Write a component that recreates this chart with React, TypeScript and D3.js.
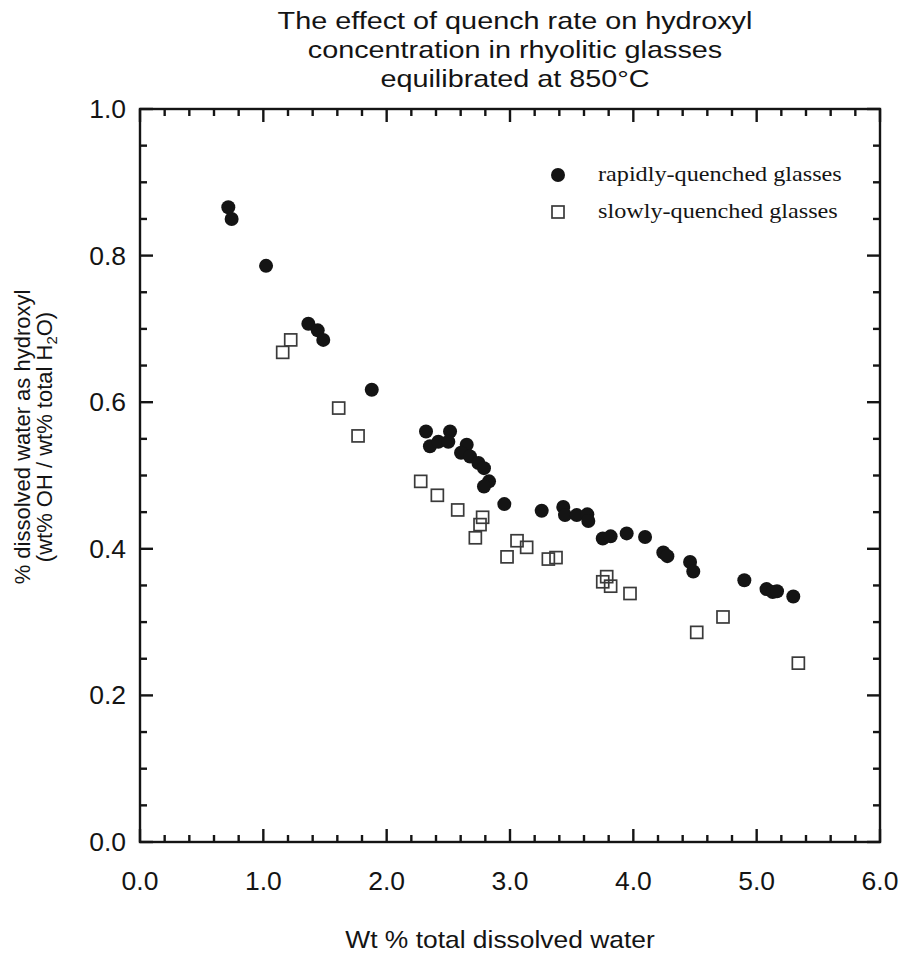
import React from "react";
import * as d3 from "d3";

// ---- data ----
const rapidX = [0.716, 0.743, 1.022, 1.365, 1.441, 1.486, 1.879, 2.319, 2.514, 2.351, 2.419, 2.5, 2.649, 2.603, 2.676, 2.744, 2.789, 2.83, 2.789, 2.954, 3.257, 3.432, 3.446, 3.541, 3.627, 3.635, 3.752, 3.816, 3.946, 4.095, 4.243, 4.276, 4.46, 4.486, 4.9, 5.08, 5.13, 5.165, 5.297];
const rapidY = [0.866, 0.85, 0.786, 0.707, 0.698, 0.685, 0.617, 0.56, 0.56, 0.54, 0.546, 0.546, 0.542, 0.531, 0.526, 0.517, 0.51, 0.492, 0.485, 0.461, 0.452, 0.457, 0.446, 0.446, 0.447, 0.438, 0.414, 0.417, 0.421, 0.416, 0.395, 0.39, 0.382, 0.369, 0.357, 0.345, 0.341, 0.342, 0.335];

const slowX = [1.157, 1.222, 1.611, 1.768, 2.276, 2.411, 2.576, 2.778, 2.757, 2.719, 2.976, 3.057, 3.135, 3.311, 3.373, 3.752, 3.784, 3.816, 3.973, 4.514, 4.727, 5.338];
const slowY = [0.668, 0.685, 0.592, 0.554, 0.492, 0.473, 0.453, 0.443, 0.433, 0.415, 0.389, 0.411, 0.402, 0.386, 0.388, 0.355, 0.362, 0.349, 0.339, 0.286, 0.307, 0.244];

const xMajorTicks = [0, 1, 2, 3, 4, 5, 6];
const xTickLabels = ["0.0", "1.0", "2.0", "3.0", "4.0", "5.0", "6.0"];
const yMajorTicks = [0, 0.2, 0.4, 0.6, 0.8, 1.0];
const yTickLabels = ["0.0", "0.2", "0.4", "0.6", "0.8", "1.0"];

const titleLines = [
  "The effect of quench rate on hydroxyl",
  "concentration in rhyolitic glasses",
  "equilibrated at 850°C",
];
const xTitle = "Wt % total dissolved water";
const yTitle1 = "% dissolved water as hydroxyl";
const legendLabels = ["rapidly-quenched glasses", "slowly-quenched glasses"];

// ---- layout ----
const W = 906;
const H = 960;
const L = 140, R = 880, T = 109, B = 842;
const SANS = "'Liberation Sans', Arial, Helvetica, sans-serif";
const SERIF = "'Liberation Serif', 'Times New Roman', serif";
const INK = "#141414";

function SText(props: any) {
  const { x, y, sx = 1, anchor = "start", size, family = SANS, children } = props;
  return (
    <text
      transform={`translate(${x},${y}) scale(${sx},1)`}
      textAnchor={anchor}
      fontSize={size}
      fontFamily={family}
      fill={INK}
    >
      {children}
    </text>
  );
}

export default function App() {
  const x = d3.scaleLinear().domain([0, 6]).range([L, R]);
  const y = d3.scaleLinear().domain([0, 1]).range([B, T]);

  const xMinor = d3.range(0, 6.0001, 0.2).filter((v) => Math.abs(v - Math.round(v)) > 1e-6);
  const yMinor = d3.range(0, 1.0001, 0.05).filter((v) => Math.abs(v * 5 - Math.round(v * 5)) > 1e-6);

  const MAJ = 13;
  const MIN = 7;
  const sw = 2.4;

  const rapid = rapidX.map((v, i) => [v, rapidY[i]]);
  const slow = slowX.map((v, i) => [v, slowY[i]]);
  const sq = 12;

  return (
    <svg
      width={W}
      height={H}
      viewBox={`0 0 ${W} ${H}`}
      style={{ position: "absolute", left: 0, top: 0, background: "#fff" }}
    >
      <rect x={0} y={0} width={W} height={H} fill="#fff" />
      {/* title */}
      {titleLines.map((t, i) => (
        <SText key={i} x={515} y={29 + i * 29} sx={1.2} anchor="middle" size={24}>
          {t}
        </SText>
      ))}

      {/* frame */}
      <rect x={L} y={T} width={R - L} height={B - T} fill="none" stroke={INK} strokeWidth={sw} />

      {/* x ticks bottom & top */}
      {xMajorTicks.map((v) => (
        <g key={"xM" + v}>
          <line x1={x(v)} x2={x(v)} y1={B} y2={B - MAJ} stroke={INK} strokeWidth={sw} />
          <line x1={x(v)} x2={x(v)} y1={T} y2={T + MAJ} stroke={INK} strokeWidth={sw} />
        </g>
      ))}
      {xMinor.map((v) => (
        <g key={"xm" + v}>
          <line x1={x(v)} x2={x(v)} y1={B} y2={B - MIN} stroke={INK} strokeWidth={sw} />
          <line x1={x(v)} x2={x(v)} y1={T} y2={T + MIN} stroke={INK} strokeWidth={sw} />
        </g>
      ))}
      {/* y ticks left & right */}
      {yMajorTicks.map((v) => (
        <g key={"yM" + v}>
          <line x1={L} x2={L + MAJ} y1={y(v)} y2={y(v)} stroke={INK} strokeWidth={sw} />
          <line x1={R} x2={R - MAJ} y1={y(v)} y2={y(v)} stroke={INK} strokeWidth={sw} />
        </g>
      ))}
      {yMinor.map((v) => (
        <g key={"ym" + v}>
          <line x1={L} x2={L + MIN} y1={y(v)} y2={y(v)} stroke={INK} strokeWidth={sw} />
          <line x1={R} x2={R - MIN} y1={y(v)} y2={y(v)} stroke={INK} strokeWidth={sw} />
        </g>
      ))}

      {/* tick labels */}
      {xMajorTicks.map((v, i) => (
        <SText key={"xl" + v} x={x(v)} y={890} sx={1.06} anchor="middle" size={25}>
          {xTickLabels[i]}
        </SText>
      ))}
      {yMajorTicks.map((v, i) => (
        <SText key={"yl" + v} x={126} y={y(v) + 9} sx={1.06} anchor="end" size={25}>
          {yTickLabels[i]}
        </SText>
      ))}

      {/* axis titles */}
      <SText x={500} y={948} sx={1.1} anchor="middle" size={24}>
        {xTitle}
      </SText>
      <text
        transform={`translate(30,437) rotate(-90)`}
        textAnchor="middle"
        fontSize={22}
        fontFamily={SANS}
        fill={INK}
      >
        {yTitle1}
      </text>
      <text
        transform={`translate(52,437) rotate(-90)`}
        textAnchor="middle"
        fontSize={22}
        fontFamily={SANS}
        fill={INK}
      >
        <tspan>(wt% OH / wt% total H</tspan>
        <tspan fontSize={15} dy={5}>2</tspan>
        <tspan dy={-5}>O)</tspan>
      </text>

      {/* data */}
      {slow.map((d, i) => (
        <rect
          key={"s" + i}
          x={x(d[0]) - sq / 2}
          y={y(d[1]) - sq / 2}
          width={sq}
          height={sq}
          fill="none"
          stroke="#3a3a3a"
          strokeWidth={1.7}
        />
      ))}
      {rapid.map((d, i) => (
        <circle key={"r" + i} cx={x(d[0])} cy={y(d[1])} r={7} fill={INK} />
      ))}

      {/* legend */}
      <circle cx={558} cy={175} r={7} fill={INK} />
      <SText x={598} y={181} sx={1.1} size={22} family={SERIF}>
        {legendLabels[0]}
      </SText>
      <rect x={558 - 6} y={212 - 6} width={12} height={12} fill="none" stroke="#3a3a3a" strokeWidth={1.7} />
      <SText x={598} y={218} sx={1.1} size={22} family={SERIF}>
        {legendLabels[1]}
      </SText>
    </svg>
  );
}
